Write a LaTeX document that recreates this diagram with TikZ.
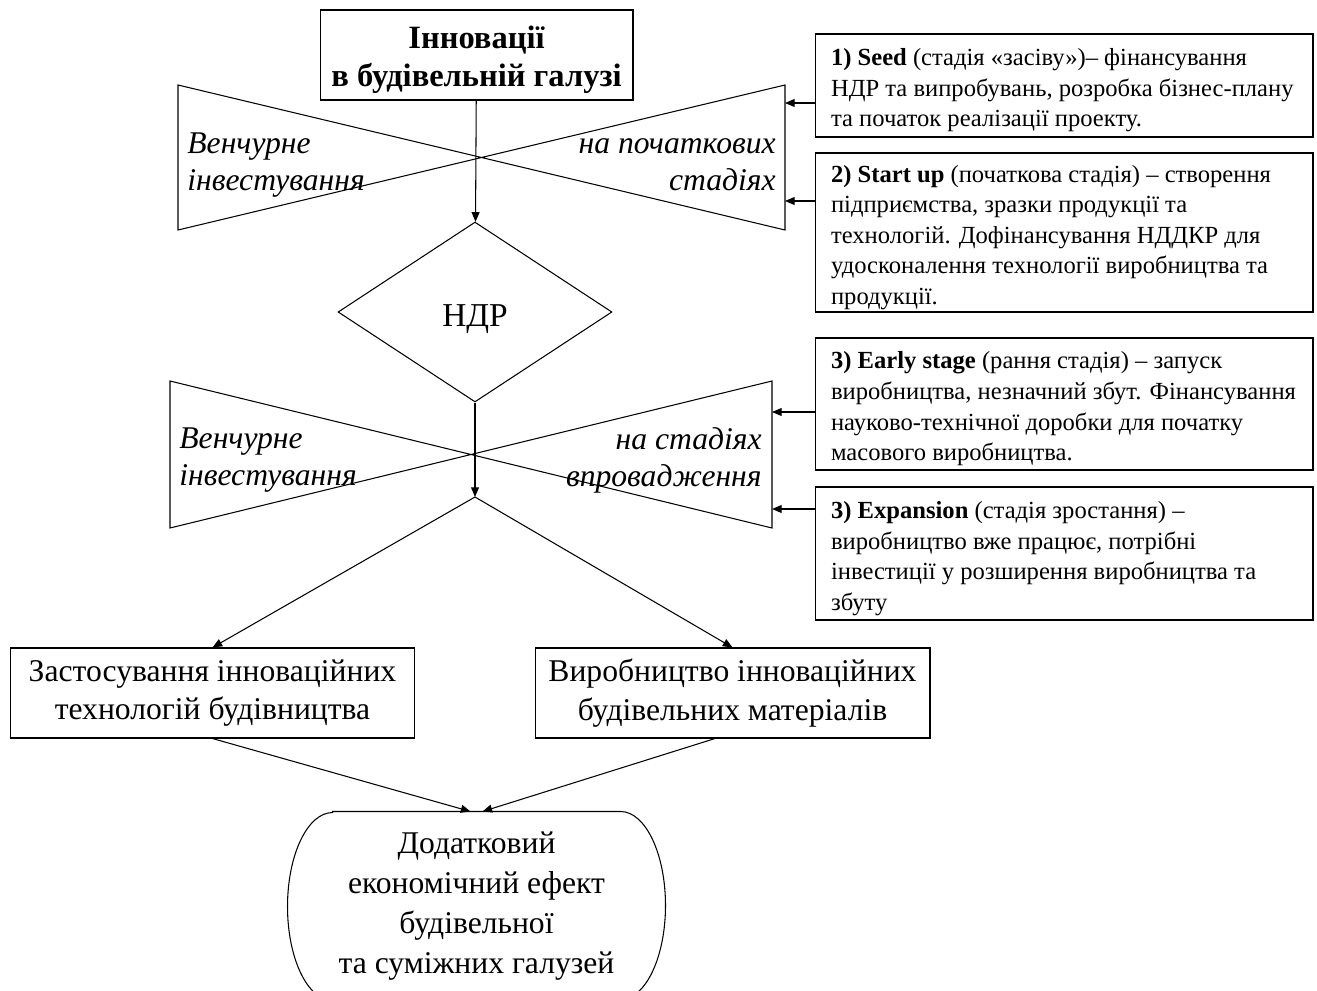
\documentclass[tikz,border=0pt]{standalone}
\usepackage{fontspec}
\setmainfont{Liberation Serif}
\usetikzlibrary{shapes.geometric,arrows.meta}
\newcommand\notetext[1]{\raisebox{-2.8pt}[\height][\depth]{\parbox{9.32cm}{\raggedright #1}}}
\tikzset{
  box/.style={draw,inner sep=0pt,align=center},
  note/.style={draw,inner xsep=0.32cm,inner ysep=0pt,
    font=\fontsize{14}{17.4}\selectfont},
  tip/.style={-{Triangle[length=5.5pt,width=4.5pt]}},
  side/.style={font=\itshape\fontsize{18}{21}\selectfont},
}
\begin{document}
\begin{tikzpicture}[x=0.02cm,y=0.02cm,line width=0.6pt]
  \useasboundingbox(0,0)rectangle(1317,-990);
  \clip(0,0)rectangle(1317,-990);
  % bow ties
  \draw(178,-85)--(785,-230)--(785,-85)--(178,-230)--cycle;
  \draw(170,-381)--(772,-528)--(772,-381)--(170,-528)--cycle;
  \coordinate(a1)at(785,-103);
  \coordinate(a2)at(785,-201);
  \coordinate(a3)at(772,-412);
  \coordinate(a4)at(772,-509);
  \coordinate(j)at(475,-497);
  \node[side,anchor=west,align=left](v1)at(181,-165){Венчурне\\інвестування};
  \node[side,anchor=east,align=right](s1)at(782,-165){на початкових\\стадіях};
  \node[side,anchor=west,align=left](v2)at(173,-460){Венчурне\\інвестування};
  \node[side,anchor=east,align=right](s2)at(768,-460){на стадіях\\впровадження};
  % main chain
  \node[box,minimum width=6.26cm,minimum height=1.8cm,font=\bfseries\fontsize{18.5}{21.5}\selectfont](1)at(476.5,-55){\raisebox{-2.6pt}[\height][\depth]{\begin{tabular}{@{}c@{}}Інновації\\в будівельній галузі\end{tabular}}};
  \node[draw,diamond,inner sep=0pt,minimum width=5.48cm,minimum height=3.6cm,font=\fontsize{19}{22}\selectfont](2)at(475,-312){\raisebox{-4pt}[\height][\depth]{НДР}};
  \node[box,minimum width=8.1cm,minimum height=1.8cm,font=\fontsize{18}{22}\selectfont](3)at(212.5,-693){Застосування інноваційних\\технологій будівництва};
  \node[box,minimum width=7.9cm,minimum height=1.8cm,font=\fontsize{18}{22}\selectfont](4)at(732.5,-693){Виробництво інноваційних\\будівельних матеріалів};
  \node[align=center,minimum width=7.54cm,minimum height=3.76cm,font=\fontsize{18}{22.7}\selectfont](5)at(476.5,-906){Додатковий\\економічний ефект\\будівельної\\та суміжних галузей};
  \draw([xshift=0.9cm]5.north west)--([xshift=-0.9cm]5.north east)
    arc[start angle=90,end angle=-90,x radius=0.9cm,y radius=1.88cm]
    --([xshift=0.9cm]5.south west)
    arc[start angle=-90,end angle=-270,x radius=0.9cm,y radius=1.88cm]--cycle;
  % stage notes
  \node[note,minimum height=2.06cm](6)at(1064,-85.5){\notetext{\textbf{1) Seed} (стадія «засіву»)– фінансування\\НДР та випробувань, розробка бізнес-плану\\та початок реалізації проекту.}};
  \node[note,minimum height=3.18cm](7)at(1064,-232.5){\notetext{\textbf{2) Start up} (початкова стадія) – створення\\підприємства, зразки продукції та\\технологій. Дофінансування НДДКР для\\удосконалення технології виробництва та\\продукції.}};
  \node[note,minimum height=2.64cm](8)at(1064,-404){\notetext{\textbf{3) Early stage} (рання стадія) – запуск\\виробництва, незначний збут. Фінансування\\науково-технічної доробки для початку\\масового виробництва.}};
  \node[note,minimum height=2.66cm](9)at(1064,-553.5){\notetext{\textbf{3) Expansion} (стадія зростання) –\\виробництво вже працює, потрібні\\інвестиції у розширення виробництва та\\збуту}};
  % connectors
  \draw[tip](1)--(2);
  \draw[tip](2)--(j);
  \draw[tip](j)--(3.north);
  \draw[tip](j)--(4.north);
  \draw[tip](3.south)--([xshift=-0.12cm]5.north);
  \draw[tip]([xshift=-0.35cm]4.south)--([xshift=0.12cm]5.north);
  \draw[tip](6.west|-a1)--(a1);
  \draw[tip](7.west|-a2)--(a2);
  \draw[tip](8.west|-a3)--(a3);
  \draw[tip](9.west|-a4)--(a4);
\end{tikzpicture}
\end{document}
